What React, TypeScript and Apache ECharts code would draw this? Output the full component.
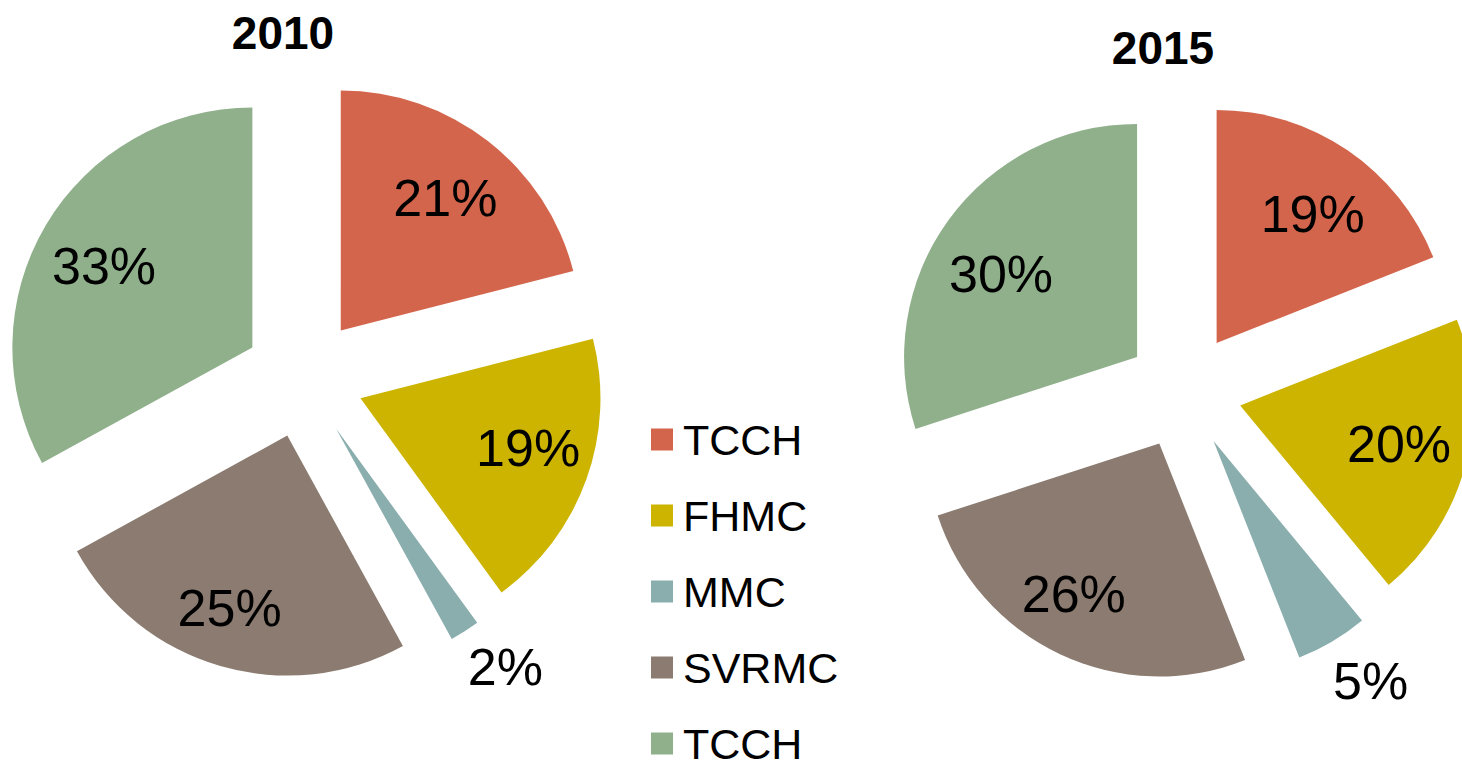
import React, { useEffect, useRef } from 'react';
import * as echarts from 'echarts';

// ---- data ----
const CATEGORIES = ['TCCH', 'FHMC', 'MMC', 'SVRMC', 'TCCH'];
const YEARS = ['2010', '2015'];
const VALUES_2010 = [21, 19, 2, 25, 33];
const VALUES_2015 = [19, 20, 5, 26, 30];

// ---- styles / layout ----
const COLORS = ['#D2654B', '#CCB400', '#8AADAD', '#8B7B70', '#90B08C'];
const FONT = "'Liberation Sans', Arial, Helvetica, sans-serif";

const PIES = [
  {
    title: YEARS[0],
    values: VALUES_2010,
    center: [304, 378],
    radius: 240,
    offset: 60,
    titlePos: [283, 33],
    labelRadius: [166, 172, 294, 182, 167],
    labelShift: [[1, 1], [3, -10], [10, -12], [-6, -5], [-2, 5]],
  },
  {
    title: YEARS[1],
    values: VALUES_2015,
    center: [1184, 391],
    radius: 233,
    offset: 58,
    titlePos: [1163, 48],
    labelRadius: [159, 161, 286, 172, 159],
    labelShift: [[5, 5], [0, -2], [10, -9], [-11, -8], [-5, 12]],
  },
];

const itemId = (i: number) => `${CATEGORIES[i]}#${i}`;

function buildOption() {
  const series: any[] = [];
  PIES.forEach((p) => {
    series.push({
      type: 'pie',
      center: p.center,
      radius: [0, p.radius],
      startAngle: 90,
      clockwise: true,
      selectedMode: 'multiple',
      selectedOffset: p.offset,
      avoidLabelOverlap: false,
      silent: true,
      emphasis: { disabled: true },
      label: { show: false },
      labelLine: { show: false },
      data: p.values.map((v, i) => ({
        name: itemId(i),
        value: v,
        selected: true,
        itemStyle: { color: COLORS[i], borderWidth: 0 },
        select: { itemStyle: { color: COLORS[i], borderWidth: 0 } },
      })),
    });
  });
  // transparent label carriers (one per slice) so each label sits at its own radius
  PIES.forEach((p) => {
    p.values.forEach((_, k) => {
      const lr = p.labelRadius[k];
      series.push({
        type: 'pie',
        center: p.center,
        radius: [lr - 5, lr + 5],
        startAngle: 90,
        clockwise: true,
        selectedMode: 'multiple',
        selectedOffset: p.offset,
        avoidLabelOverlap: false,
        silent: true,
        emphasis: { disabled: true },
        labelLine: { show: false },
        labelLayout: (params: any) => {
          const s = p.labelShift[params.dataIndex] || [0, 0];
          return { dx: s[0], dy: s[1] };
        },
        data: p.values.map((v, i) => ({
          name: itemId(i),
          value: v,
          selected: true,
          itemStyle: { color: 'rgba(0,0,0,0)' },
          select: { itemStyle: { color: 'rgba(0,0,0,0)' } },
          label: {
            show: i === k,
            position: 'inside',
            formatter: '{c}%',
            fontSize: 52,
            color: '#000',
            fontFamily: FONT,
          },
        })),
      });
    });
  });

  return {
    animation: false,
    backgroundColor: '#ffffff',
    legend: {
      orient: 'vertical',
      left: 651,
      top: 418,
      height: 360,
      padding: 0,
      itemWidth: 22,
      itemHeight: 22,
      itemGap: 33,
      icon: 'rect',
      selectedMode: false,
      data: CATEGORIES.map((_, i) => itemId(i)),
      formatter: (n: string) => n.split('#')[0],
      textStyle: {
        fontSize: 43,
        color: '#000',
        fontFamily: FONT,
        padding: [0, 0, 0, 5],
      },
    },
    graphic: PIES.map((p) => ({
      type: 'text',
      x: p.titlePos[0],
      y: p.titlePos[1],
      silent: true,
      style: {
        text: p.title,
        font: `bold 46px ${FONT}`,
        fill: '#000',
        textAlign: 'center',
        textVerticalAlign: 'middle',
      },
    })),
    series,
  };
}

export default function App() {
  const ref = useRef<HTMLDivElement>(null);
  useEffect(() => {
    if (!ref.current) return;
    const chart = echarts.init(ref.current, undefined, { renderer: 'svg' });
    chart.setOption(buildOption() as any);
    return () => chart.dispose();
  }, []);
  return (
    <div
      ref={ref}
      style={{ position: 'fixed', left: 0, top: 0, width: 1462, height: 761, background: '#fff' }}
    />
  );
}
